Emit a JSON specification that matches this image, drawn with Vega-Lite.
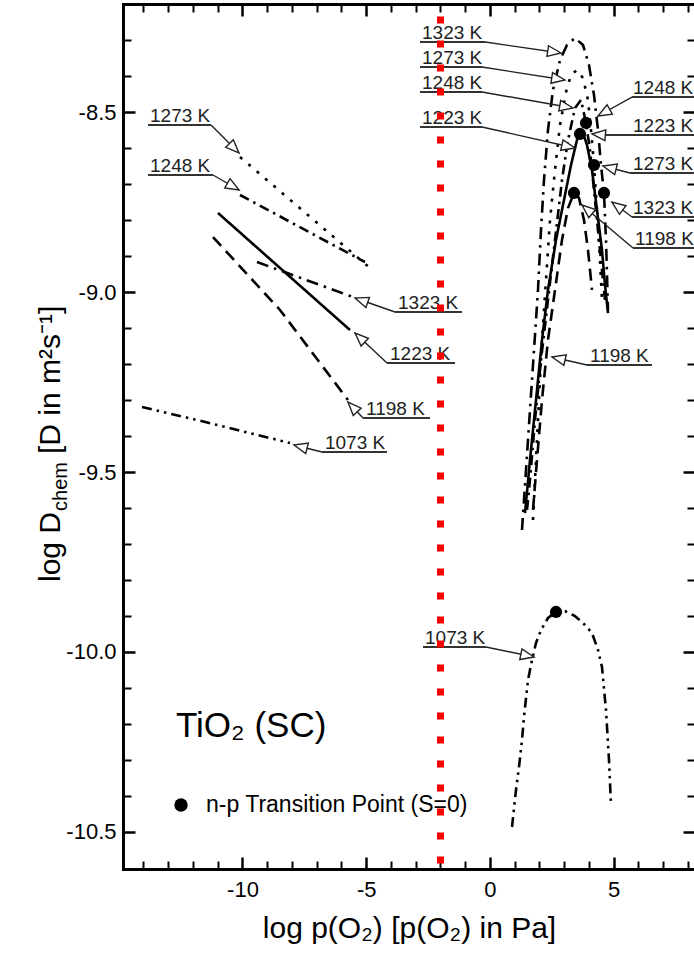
{
  "$schema": "https://vega.github.io/schema/vega-lite/v6.json",
  "width": 572,
  "height": 865,
  "autosize": {"type": "none"},
  "padding": {"left": 123, "top": 4, "right": 0, "bottom": 87},
  "background": "white",
  "config": {
    "view": {"stroke": null},
    "font": "Liberation Sans",
    "axis": {"grid": false, "domainColor": "black", "tickColor": "black", "labelColor": "black", "titleColor": "black", "labelFont": "Liberation Sans", "titleFont": "Liberation Sans"}
  },
  "datasets": {
    "curves": [
      {"c": "a1273", "T": "1273 K", "i": 0, "x": -10.101, "y": -8.6243},
      {"c": "a1273", "T": "1273 K", "i": 1, "x": -4.848, "y": -8.9329},
      {"c": "a1248", "T": "1248 K", "i": 0, "x": -10.101, "y": -8.7299},
      {"c": "a1248", "T": "1248 K", "i": 1, "x": -5.051, "y": -8.9162},
      {"c": "a1223", "T": "1223 K", "i": 0, "x": -10.99, "y": -8.7799},
      {"c": "a1223", "T": "1223 K", "i": 1, "x": -5.657, "y": -9.1052},
      {"c": "a1198", "T": "1198 K", "i": 0, "x": -11.192, "y": -8.8467},
      {"c": "a1198", "T": "1198 K", "i": 1, "x": -8.485, "y": -9.0496},
      {"c": "a1198", "T": "1198 K", "i": 2, "x": -5.737, "y": -9.2998},
      {"c": "a1323", "T": "1323 K", "i": 0, "x": -9.414, "y": -8.9162},
      {"c": "a1323", "T": "1323 K", "i": 1, "x": -5.535, "y": -9.0135},
      {"c": "a1073", "T": "1073 K", "i": 0, "x": -14.06, "y": -9.3193},
      {"c": "a1073", "T": "1073 K", "i": 1, "x": -11.838, "y": -9.3554},
      {"c": "a1073", "T": "1073 K", "i": 2, "x": -8.081, "y": -9.4194},

      {"c": "b1323", "T": "1323 K", "i": 0, "x": 1.293, "y": -9.6612},
      {"c": "b1323", "T": "1323 K", "i": 1, "x": 1.455, "y": -9.4944},
      {"c": "b1323", "T": "1323 K", "i": 2, "x": 1.616, "y": -9.3276},
      {"c": "b1323", "T": "1323 K", "i": 3, "x": 1.778, "y": -9.1608},
      {"c": "b1323", "T": "1323 K", "i": 4, "x": 1.939, "y": -8.994},
      {"c": "b1323", "T": "1323 K", "i": 5, "x": 2.061, "y": -8.8272},
      {"c": "b1323", "T": "1323 K", "i": 6, "x": 2.182, "y": -8.6882},
      {"c": "b1323", "T": "1323 K", "i": 7, "x": 2.343, "y": -8.5492},
      {"c": "b1323", "T": "1323 K", "i": 8, "x": 2.545, "y": -8.438},
      {"c": "b1323", "T": "1323 K", "i": 9, "x": 2.828, "y": -8.3546},
      {"c": "b1323", "T": "1323 K", "i": 10, "x": 3.111, "y": -8.3129},
      {"c": "b1323", "T": "1323 K", "i": 11, "x": 3.434, "y": -8.2934},
      {"c": "b1323", "T": "1323 K", "i": 12, "x": 3.758, "y": -8.3129},
      {"c": "b1323", "T": "1323 K", "i": 13, "x": 4.0, "y": -8.3685},
      {"c": "b1323", "T": "1323 K", "i": 14, "x": 4.202, "y": -8.4519},
      {"c": "b1323", "T": "1323 K", "i": 15, "x": 4.364, "y": -8.5492},
      {"c": "b1323", "T": "1323 K", "i": 16, "x": 4.485, "y": -8.6465},
      {"c": "b1323", "T": "1323 K", "i": 17, "x": 4.606, "y": -8.7243},
      {"c": "b1323", "T": "1323 K", "i": 18, "x": 4.687, "y": -8.855},
      {"c": "b1323", "T": "1323 K", "i": 19, "x": 4.768, "y": -9.0496},

      {"c": "b1273", "T": "1273 K", "i": 0, "x": 1.737, "y": -9.6334},
      {"c": "b1273", "T": "1273 K", "i": 1, "x": 1.859, "y": -9.4666},
      {"c": "b1273", "T": "1273 K", "i": 2, "x": 1.98, "y": -9.2998},
      {"c": "b1273", "T": "1273 K", "i": 3, "x": 2.101, "y": -9.133},
      {"c": "b1273", "T": "1273 K", "i": 4, "x": 2.263, "y": -8.9662},
      {"c": "b1273", "T": "1273 K", "i": 5, "x": 2.424, "y": -8.7994},
      {"c": "b1273", "T": "1273 K", "i": 6, "x": 2.626, "y": -8.6604},
      {"c": "b1273", "T": "1273 K", "i": 7, "x": 2.828, "y": -8.5353},
      {"c": "b1273", "T": "1273 K", "i": 8, "x": 3.071, "y": -8.4436},
      {"c": "b1273", "T": "1273 K", "i": 9, "x": 3.273, "y": -8.3963},
      {"c": "b1273", "T": "1273 K", "i": 10, "x": 3.515, "y": -8.3824},
      {"c": "b1273", "T": "1273 K", "i": 11, "x": 3.758, "y": -8.4046},
      {"c": "b1273", "T": "1273 K", "i": 12, "x": 3.96, "y": -8.4658},
      {"c": "b1273", "T": "1273 K", "i": 13, "x": 4.081, "y": -8.5492},
      {"c": "b1273", "T": "1273 K", "i": 14, "x": 4.202, "y": -8.6465},
      {"c": "b1273", "T": "1273 K", "i": 15, "x": 4.323, "y": -8.7716},
      {"c": "b1273", "T": "1273 K", "i": 16, "x": 4.444, "y": -8.9106},
      {"c": "b1273", "T": "1273 K", "i": 17, "x": 4.525, "y": -9.0218},

      {"c": "b1248", "T": "1248 K", "i": 0, "x": 1.495, "y": -9.6056},
      {"c": "b1248", "T": "1248 K", "i": 1, "x": 1.616, "y": -9.5222},
      {"c": "b1248", "T": "1248 K", "i": 2, "x": 1.818, "y": -9.3554},
      {"c": "b1248", "T": "1248 K", "i": 3, "x": 2.061, "y": -9.1886},
      {"c": "b1248", "T": "1248 K", "i": 4, "x": 2.343, "y": -9.0218},
      {"c": "b1248", "T": "1248 K", "i": 5, "x": 2.626, "y": -8.855},
      {"c": "b1248", "T": "1248 K", "i": 6, "x": 2.909, "y": -8.6882},
      {"c": "b1248", "T": "1248 K", "i": 7, "x": 3.152, "y": -8.577},
      {"c": "b1248", "T": "1248 K", "i": 8, "x": 3.434, "y": -8.488},
      {"c": "b1248", "T": "1248 K", "i": 9, "x": 3.677, "y": -8.4658},
      {"c": "b1248", "T": "1248 K", "i": 10, "x": 3.879, "y": -8.5297},
      {"c": "b1248", "T": "1248 K", "i": 11, "x": 4.04, "y": -8.6048},
      {"c": "b1248", "T": "1248 K", "i": 12, "x": 4.242, "y": -8.7438},
      {"c": "b1248", "T": "1248 K", "i": 13, "x": 4.444, "y": -8.8828},
      {"c": "b1248", "T": "1248 K", "i": 14, "x": 4.646, "y": -9.0218},

      {"c": "b1223", "T": "1223 K", "i": 0, "x": 1.414, "y": -9.614},
      {"c": "b1223", "T": "1223 K", "i": 1, "x": 1.616, "y": -9.4666},
      {"c": "b1223", "T": "1223 K", "i": 2, "x": 1.859, "y": -9.2998},
      {"c": "b1223", "T": "1223 K", "i": 3, "x": 2.101, "y": -9.133},
      {"c": "b1223", "T": "1223 K", "i": 4, "x": 2.343, "y": -8.994},
      {"c": "b1223", "T": "1223 K", "i": 5, "x": 2.667, "y": -8.855},
      {"c": "b1223", "T": "1223 K", "i": 6, "x": 2.99, "y": -8.7438},
      {"c": "b1223", "T": "1223 K", "i": 7, "x": 3.273, "y": -8.6465},
      {"c": "b1223", "T": "1223 K", "i": 8, "x": 3.515, "y": -8.577},
      {"c": "b1223", "T": "1223 K", "i": 9, "x": 3.636, "y": -8.5603},
      {"c": "b1223", "T": "1223 K", "i": 10, "x": 3.758, "y": -8.5575},
      {"c": "b1223", "T": "1223 K", "i": 11, "x": 3.919, "y": -8.5909},
      {"c": "b1223", "T": "1223 K", "i": 12, "x": 4.121, "y": -8.6604},
      {"c": "b1223", "T": "1223 K", "i": 13, "x": 4.323, "y": -8.7716},
      {"c": "b1223", "T": "1223 K", "i": 14, "x": 4.525, "y": -8.8828},
      {"c": "b1223", "T": "1223 K", "i": 15, "x": 4.646, "y": -8.9801},
      {"c": "b1223", "T": "1223 K", "i": 16, "x": 4.768, "y": -9.058},

      {"c": "b1198", "T": "1198 K", "i": 0, "x": 1.737, "y": -9.6056},
      {"c": "b1198", "T": "1198 K", "i": 1, "x": 1.899, "y": -9.4666},
      {"c": "b1198", "T": "1198 K", "i": 2, "x": 2.101, "y": -9.2998},
      {"c": "b1198", "T": "1198 K", "i": 3, "x": 2.343, "y": -9.133},
      {"c": "b1198", "T": "1198 K", "i": 4, "x": 2.626, "y": -8.994},
      {"c": "b1198", "T": "1198 K", "i": 5, "x": 2.909, "y": -8.855},
      {"c": "b1198", "T": "1198 K", "i": 6, "x": 3.152, "y": -8.7661},
      {"c": "b1198", "T": "1198 K", "i": 7, "x": 3.394, "y": -8.7243},
      {"c": "b1198", "T": "1198 K", "i": 8, "x": 3.596, "y": -8.7382},
      {"c": "b1198", "T": "1198 K", "i": 9, "x": 3.798, "y": -8.7994},
      {"c": "b1198", "T": "1198 K", "i": 10, "x": 3.96, "y": -8.8828},
      {"c": "b1198", "T": "1198 K", "i": 11, "x": 4.121, "y": -8.994},

      {"c": "b1073", "T": "1073 K", "i": 0, "x": 0.889, "y": -10.4869},
      {"c": "b1073", "T": "1073 K", "i": 1, "x": 1.051, "y": -10.3841},
      {"c": "b1073", "T": "1073 K", "i": 2, "x": 1.172, "y": -10.3201},
      {"c": "b1073", "T": "1073 K", "i": 3, "x": 1.293, "y": -10.2451},
      {"c": "b1073", "T": "1073 K", "i": 4, "x": 1.374, "y": -10.1811},
      {"c": "b1073", "T": "1073 K", "i": 5, "x": 1.535, "y": -10.0783},
      {"c": "b1073", "T": "1073 K", "i": 6, "x": 1.697, "y": -10.0226},
      {"c": "b1073", "T": "1073 K", "i": 7, "x": 1.859, "y": -9.9754},
      {"c": "b1073", "T": "1073 K", "i": 8, "x": 2.061, "y": -9.9392},
      {"c": "b1073", "T": "1073 K", "i": 9, "x": 2.343, "y": -9.9059},
      {"c": "b1073", "T": "1073 K", "i": 10, "x": 2.667, "y": -9.8892},
      {"c": "b1073", "T": "1073 K", "i": 11, "x": 3.03, "y": -9.8864},
      {"c": "b1073", "T": "1073 K", "i": 12, "x": 3.434, "y": -9.9003},
      {"c": "b1073", "T": "1073 K", "i": 13, "x": 3.838, "y": -9.9254},
      {"c": "b1073", "T": "1073 K", "i": 14, "x": 4.121, "y": -9.9476},
      {"c": "b1073", "T": "1073 K", "i": 15, "x": 4.364, "y": -9.9948},
      {"c": "b1073", "T": "1073 K", "i": 16, "x": 4.525, "y": -10.0421},
      {"c": "b1073", "T": "1073 K", "i": 17, "x": 4.687, "y": -10.1617},
      {"c": "b1073", "T": "1073 K", "i": 18, "x": 4.808, "y": -10.3007},
      {"c": "b1073", "T": "1073 K", "i": 19, "x": 4.889, "y": -10.4258}
    ],
    "transitions": [
      {"T": "1248 K", "x": 3.879, "y": -8.5297},
      {"T": "1223 K", "x": 3.636, "y": -8.5603},
      {"T": "1273 K", "x": 4.202, "y": -8.6465},
      {"T": "1323 K", "x": 4.606, "y": -8.7243},
      {"T": "1198 K", "x": 3.394, "y": -8.7243},
      {"T": "1073 K", "x": 2.667, "y": -9.8892}
    ],
    "callouts": [
      {"t": "1273 K", "tx": -13.737, "u1": -13.818, "u2": -11.273, "uy": -8.5353, "sx": -11.273, "ax": -10.141, "ay": -8.6131},
      {"t": "1248 K", "tx": -13.737, "u1": -13.818, "u2": -11.192, "uy": -8.6743, "sx": -11.192, "ax": -10.141, "ay": -8.716},
      {"t": "1323 K", "tx": -3.717, "u1": -3.838, "u2": -1.131, "uy": -9.0552, "sx": -3.838, "ax": -5.455, "ay": -9.0163},
      {"t": "1223 K", "tx": -4.04, "u1": -4.162, "u2": -1.414, "uy": -9.1969, "sx": -4.162, "ax": -5.455, "ay": -9.1136},
      {"t": "1198 K", "tx": -5.01, "u1": -5.131, "u2": -2.424, "uy": -9.3498, "sx": -5.131, "ax": -5.737, "ay": -9.3054},
      {"t": "1073 K", "tx": -6.667, "u1": -6.788, "u2": -4.162, "uy": -9.4444, "sx": -6.788, "ax": -7.919, "ay": -9.4249},
      {"t": "1323 K", "tx": -2.747, "u1": -2.828, "u2": -0.202, "uy": -8.3046, "sx": -0.202, "ax": 2.869, "ay": -8.3351},
      {"t": "1273 K", "tx": -2.747, "u1": -2.828, "u2": -0.323, "uy": -8.3741, "sx": -0.323, "ax": 3.03, "ay": -8.4102},
      {"t": "1248 K", "tx": -2.747, "u1": -2.828, "u2": -0.323, "uy": -8.4436, "sx": -0.323, "ax": 3.354, "ay": -8.488},
      {"t": "1223 K", "tx": -2.747, "u1": -2.828, "u2": -0.323, "uy": -8.5409, "sx": -0.323, "ax": 3.434, "ay": -8.5992},
      {"t": "1248 K", "tx": 5.778, "u1": 5.737, "u2": 8.485, "uy": -8.4575, "sx": 5.737, "ax": 4.364, "ay": -8.5103},
      {"t": "1223 K", "tx": 5.778, "u1": 4.566, "u2": 8.485, "uy": -8.5631, "sx": 4.566, "ax": 4.121, "ay": -8.5603},
      {"t": "1273 K", "tx": 5.778, "u1": 5.657, "u2": 8.485, "uy": -8.6687, "sx": 5.657, "ax": 4.566, "ay": -8.6493},
      {"t": "1323 K", "tx": 5.778, "u1": 5.737, "u2": 8.485, "uy": -8.7911, "sx": 5.737, "ax": 4.929, "ay": -8.7494},
      {"t": "1198 K", "tx": 5.859, "u1": 5.778, "u2": 8.485, "uy": -8.8772, "sx": 5.778, "ax": 3.717, "ay": -8.7577},
      {"t": "1198 K", "tx": 4.04, "u1": 3.919, "u2": 6.545, "uy": -9.2025, "sx": 3.919, "ax": 2.505, "ay": -9.1803},
      {"t": "1073 K", "tx": -2.626, "u1": -2.707, "u2": -0.162, "uy": -9.9865, "sx": -0.162, "ax": 1.778, "ay": -10.0143}
    ]
  },
  "resolve": {"axis": {"x": "independent", "y": "independent"}},
  "layer": [
    {
      "data": {"name": "curves"},
      "mark": {"type": "line", "color": "black", "strokeWidth": 2.6},
      "encoding": {
        "x": {
          "field": "x", "type": "quantitative",
          "scale": {"domain": [-14.828, 8.283], "nice": false, "zero": false},
          "axis": {
            "orient": "bottom", "values": [-10, -5, 0, 5],
            "tickSize": -12, "tickWidth": 2.5, "domainWidth": 3, "domainCap": "square",
            "labelFontSize": 22, "labelPadding": 22, "labelBaseline": "top",
            "labelFlush": false, "labelOverlap": false,
            "labelExpr": "(datum.value < 0 ? '-' : '') + format(abs(datum.value), 'd')",
            "title": "log p(O₂) [p(O₂) in Pa]", "titleFontSize": 30, "titleFontWeight": "normal",
            "titleBaseline": "alphabetic", "titleY": 68
          }
        },
        "y": {
          "field": "y", "type": "quantitative",
          "scale": {"domain": [-10.6037, -8.1989], "nice": false, "zero": false},
          "axis": {
            "orient": "left", "values": [-10.5, -10, -9.5, -9, -8.5],
            "tickSize": -12, "tickWidth": 2.5, "domainWidth": 3, "domainCap": "square",
            "labelFontSize": 22, "labelPadding": 19, "labelFlush": false, "labelOverlap": false,
            "labelExpr": "(datum.value < 0 ? '-' : '') + format(abs(datum.value), '.1f')",
            "title": null
          }
        },
        "detail": {"field": "c"},
        "order": {"field": "i"},
        "strokeDash": {
          "field": "T", "type": "nominal", "legend": null,
          "scale": {
            "domain": ["1323 K", "1273 K", "1248 K", "1223 K", "1198 K", "1073 K"],
            "range": [[12, 6, 2.5, 6], [3, 8], [10, 5, 2.5, 5], [1, 0], [12, 7], [10, 5, 2.5, 5, 2.5, 5]]
          }
        }
      }
    },
    {
      "data": {"name": "transitions"},
      "mark": {"type": "point", "filled": true, "color": "black", "size": 150, "opacity": 1},
      "encoding": {
        "x": {
          "field": "x", "type": "quantitative",
          "scale": {"domain": [-14.828, 8.283], "nice": false, "zero": false},
          "axis": {"orient": "bottom", "values": [-14, -13, -12, -11, -9, -8, -7, -6, -4, -3, -2, -1, 1, 2, 3, 4, 6, 7, 8], "tickSize": -8, "tickWidth": 2, "domain": false, "labels": false, "title": null}
        },
        "y": {
          "field": "y", "type": "quantitative",
          "scale": {"domain": [-10.6037, -8.1989], "nice": false, "zero": false},
          "axis": {"orient": "left", "values": [-10.4, -10.3, -10.2, -10.1, -9.9, -9.8, -9.7, -9.6, -9.4, -9.3, -9.2, -9.1, -8.9, -8.8, -8.7, -8.6, -8.4, -8.3], "tickSize": -8, "tickWidth": 2, "domain": false, "labels": false, "title": null}
        }
      }
    },
    {
      "data": {"name": "callouts"},
      "mark": {"type": "rule", "color": "#333", "strokeWidth": 1.8},
      "encoding": {
        "x": {
          "field": "u1", "type": "quantitative",
          "scale": {"domain": [-14.828, 8.283], "nice": false, "zero": false},
          "axis": {"orient": "top", "values": [-10, -5, 0, 5], "tickSize": -12, "tickWidth": 2.5, "domainWidth": 3, "domainCap": "square", "labels": false, "title": null}
        },
        "x2": {"field": "u2"},
        "y": {
          "field": "uy", "type": "quantitative",
          "scale": {"domain": [-10.6037, -8.1989], "nice": false, "zero": false},
          "axis": {"orient": "right", "values": [-10.5, -10, -9.5, -9, -8.5], "tickSize": -12, "tickWidth": 2.5, "domainWidth": 3, "domainCap": "square", "labels": false, "title": null}
        }
      }
    },
    {
      "data": {"name": "callouts"},
      "mark": {"type": "rule", "color": "#222", "strokeWidth": 1.4},
      "encoding": {
        "x": {
          "field": "sx", "type": "quantitative",
          "scale": {"domain": [-14.828, 8.283], "nice": false, "zero": false},
          "axis": {"orient": "top", "values": [-14, -13, -12, -11, -9, -8, -7, -6, -4, -3, -2, -1, 1, 2, 3, 4, 6, 7, 8], "tickSize": -8, "tickWidth": 2, "domain": false, "labels": false, "title": null}
        },
        "y": {
          "field": "uy", "type": "quantitative",
          "scale": {"domain": [-10.6037, -8.1989], "nice": false, "zero": false},
          "axis": {"orient": "right", "values": [-10.4, -10.3, -10.2, -10.1, -9.9, -9.8, -9.7, -9.6, -9.4, -9.3, -9.2, -9.1, -8.9, -8.8, -8.7, -8.6, -8.4, -8.3], "tickSize": -8, "tickWidth": 2, "domain": false, "labels": false, "title": null}
        },
        "x2": {"field": "ax"},
        "y2": {"field": "ay"}
      }
    },
    {
      "data": {"name": "callouts"},
      "transform": [
        {"calculate": "atan2((datum.ax - datum.sx) * 24.75, (datum.ay - datum.uy) * 359.7) * 180 / PI", "as": "heading"}
      ],
      "mark": {"type": "point", "shape": "M0,0L-0.4,1L0.4,1Z", "filled": true, "fill": "white", "stroke": "#222", "strokeWidth": 1.4, "size": 720, "opacity": 1},
      "encoding": {
        "x": {"field": "ax", "type": "quantitative", "scale": {"domain": [-14.828, 8.283], "nice": false, "zero": false}, "axis": null},
        "y": {"field": "ay", "type": "quantitative", "scale": {"domain": [-10.6037, -8.1989], "nice": false, "zero": false}, "axis": null},
        "angle": {"field": "heading", "type": "quantitative", "scale": null}
      }
    },
    {
      "data": {"name": "callouts"},
      "mark": {"type": "text", "align": "left", "baseline": "alphabetic", "dy": -3, "fontSize": 19, "color": "#222"},
      "encoding": {
        "x": {"field": "tx", "type": "quantitative", "scale": {"domain": [-14.828, 8.283], "nice": false, "zero": false}, "axis": null},
        "y": {"field": "uy", "type": "quantitative", "scale": {"domain": [-10.6037, -8.1989], "nice": false, "zero": false}, "axis": null},
        "text": {"field": "t"}
      }
    },
    {
      "data": {"values": [{}]},
      "mark": {"type": "text", "text": "TiO₂ (SC)", "align": "left", "baseline": "alphabetic", "fontSize": 35, "color": "black"},
      "encoding": {
        "x": {"datum": -12.687, "type": "quantitative", "axis": null},
        "y": {"datum": -10.2367, "type": "quantitative", "axis": null}
      }
    },
    {
      "data": {"values": [{}]},
      "mark": {"type": "point", "filled": true, "color": "black", "size": 180, "opacity": 1},
      "encoding": {
        "x": {"datum": -12.485, "type": "quantitative", "axis": null},
        "y": {"datum": -10.4258, "type": "quantitative", "axis": null}
      }
    },
    {
      "data": {"values": [{}]},
      "mark": {"type": "text", "text": "n-p Transition Point (S=0)", "align": "left", "baseline": "middle", "fontSize": 23, "color": "black"},
      "encoding": {
        "x": {"datum": -11.475, "type": "quantitative", "axis": null},
        "y": {"datum": -10.4258, "type": "quantitative", "axis": null}
      }
    },
    {
      "data": {"values": [{}]},
      "mark": {"type": "text", "text": "log D", "angle": 270, "align": "left", "baseline": "alphabetic", "fontSize": 30, "dy": -63, "color": "black"},
      "encoding": {
        "x": {"datum": -14.828, "type": "quantitative", "axis": null},
        "y": {"datum": -9.8058, "type": "quantitative", "axis": null}
      }
    },
    {
      "data": {"values": [{}]},
      "mark": {"type": "text", "text": "chem", "angle": 270, "align": "left", "baseline": "alphabetic", "fontSize": 20, "dx": 71, "dy": -56, "color": "black"},
      "encoding": {
        "x": {"datum": -14.828, "type": "quantitative", "axis": null},
        "y": {"datum": -9.8058, "type": "quantitative", "axis": null}
      }
    },
    {
      "data": {"values": [{}]},
      "mark": {"type": "text", "text": "[D in m²s⁻¹]", "angle": 270, "align": "left", "baseline": "alphabetic", "fontSize": 30, "dx": 128, "dy": -63, "color": "black"},
      "encoding": {
        "x": {"datum": -14.828, "type": "quantitative", "axis": null},
        "y": {"datum": -9.8058, "type": "quantitative", "axis": null}
      }
    },
    {
      "data": {"values": [{}]},
      "mark": {"type": "rule", "color": "#ff0000", "strokeWidth": 7, "strokeDash": [7, 17], "strokeDashOffset": 11.5},
      "encoding": {
        "x": {"datum": -2.0, "type": "quantitative", "axis": null},
        "y": {"datum": -8.1989, "type": "quantitative", "axis": null},
        "y2": {"datum": -10.6037}
      }
    }
  ]
}
